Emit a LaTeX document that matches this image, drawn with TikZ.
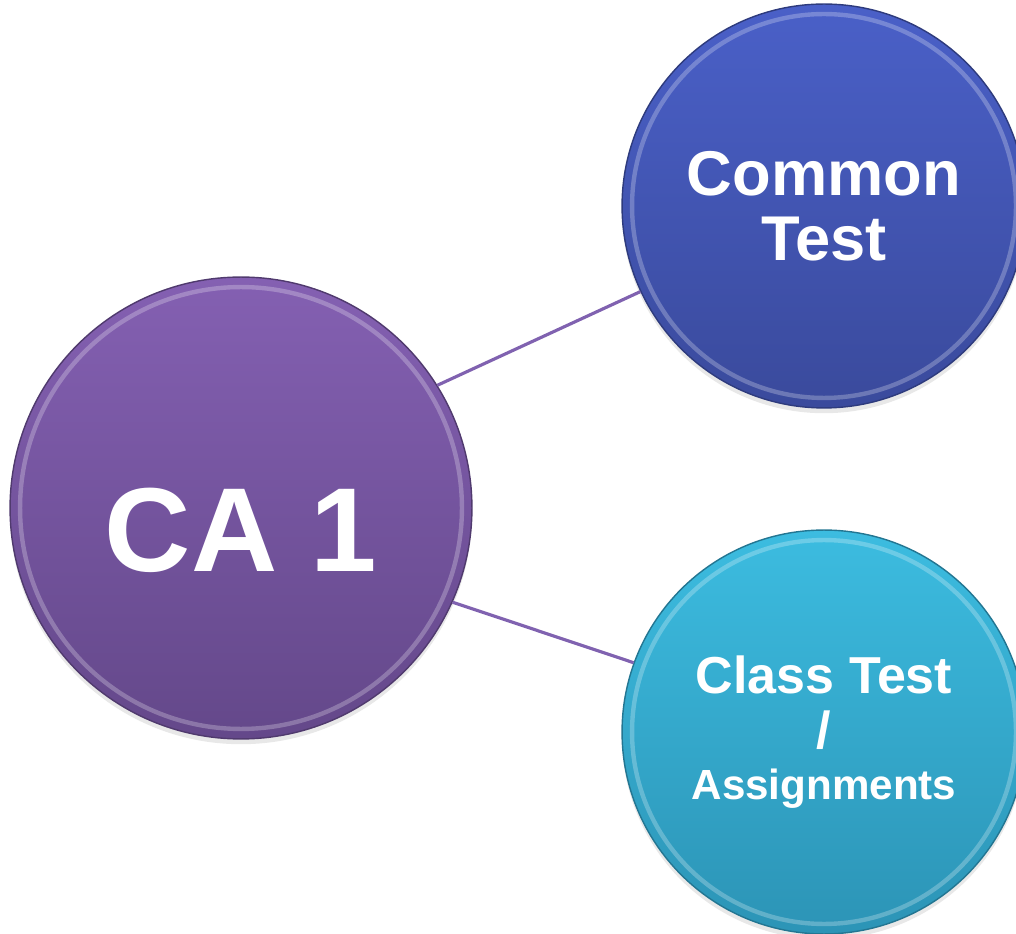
\documentclass[tikz,border=0pt]{standalone}
\usepackage{fontspec}
\setmainfont{Liberation Sans}
\usetikzlibrary{positioning,shadows}

\definecolor{caTop}{RGB}{132,96,178}
\definecolor{caBot}{RGB}{100,72,138}
\definecolor{ctTop}{RGB}{74,96,200}
\definecolor{ctBot}{RGB}{58,74,156}
\definecolor{clTop}{RGB}{60,188,224}
\definecolor{clBot}{RGB}{44,148,182}
\definecolor{linkPurple}{RGB}{128,98,176}

\begin{document}
\begin{tikzpicture}[
    x=0.02cm, y=0.02cm,
    bubble/.style={circle, inner sep=0pt, line width=0.8pt, text=white, align=center,
        drop shadow={opacity=0.18, shadow xshift=0pt, shadow yshift=-3pt}},
    rim/.style={path picture={\draw[white, opacity=0.25, line width=2.5pt]
        (path picture bounding box.center) circle[radius=#1];}},
    link/.style={draw=linkPurple, line width=1.8pt}
]
    \useasboundingbox (0,0) rectangle (1016,933);

    \node[bubble, minimum size=9.24cm, top color=caTop, bottom color=caBot,
          draw=caBot!80!black, rim=4.42cm] (ca) at (241,425) {};
    \node[bubble, minimum size=8.08cm, top color=ctTop, bottom color=ctBot,
          draw=ctBot!80!black, rim=3.84cm,
          font=\bfseries\fontsize{36}{37}\selectfont] (ct) at (824,727) {Common\\Test};
    \node[bubble, minimum size=8.08cm, top color=clTop, bottom color=clBot,
          draw=clBot!80!black, rim=3.84cm,
          font=\bfseries\fontsize{29.6}{31}\selectfont] (cl) at (824,201)
          {Class Test\\/\\[-2pt]{\fontsize{24}{26.7}\selectfont Assignments}};

    \node[text=white, font=\bfseries\fontsize{68}{68}\selectfont] (catxt)
        at ([yshift=-0.44cm]ca.center) {CA 1};

    \draw[link] (ca.32.5) -- (ct.205);
    \draw[link] (ca.-24) -- (cl.160);
\end{tikzpicture}
\end{document}
